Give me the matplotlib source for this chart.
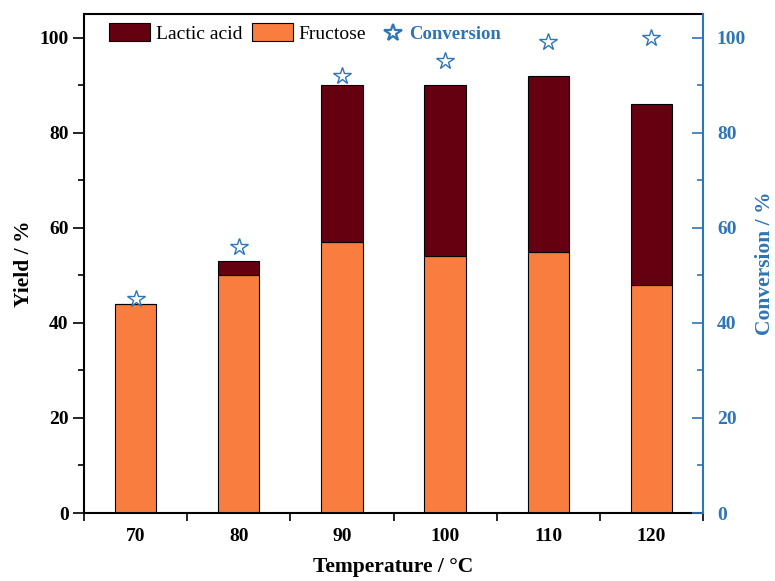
import matplotlib
matplotlib.use('Agg')
import matplotlib.pyplot as plt
from matplotlib.patches import Patch
from matplotlib.lines import Line2D
from matplotlib.ticker import MultipleLocator, FixedLocator

temperatures = [70, 80, 90, 100, 110, 120]
fructose = [44, 50, 57, 54, 55, 48]
lactic_acid = [0, 3, 33, 36, 37, 38]
conversion = [45, 56, 92, 95, 99, 100]
x_tick_labels = ['70', '80', '90', '100', '110', '120']

plt.rcParams['font.family'] = ['Liberation Serif', 'DejaVu Serif']
plt.rcParams['mathtext.fontset'] = 'stix'

RED = '#650010'
ORANGE = '#F97D3F'
BLUE = '#2E75B6'

fig = plt.figure(figsize=(7.75, 5.81), dpi=100)
ax = fig.add_axes([0.1084, 0.117, 0.7987, 0.859])
ax2 = ax.twinx()

ax.bar(temperatures, fructose, width=4, color=ORANGE, edgecolor='black', linewidth=0.8, zorder=2)
ax.bar(temperatures, lactic_acid, width=4, bottom=fructose, color=RED, edgecolor='black', linewidth=0.8, zorder=2)
ax2.plot(temperatures, conversion, linestyle='none', marker='*', markersize=13,
         markerfacecolor='none', markeredgecolor=BLUE, markeredgewidth=1.0)

ax.set_xlim(65, 125)
ax.set_ylim(0, 105)
ax2.set_ylim(0, 105)

# x ticks: labels at categories, ticks between
ax.set_xticks(temperatures)
ax.set_xticklabels(x_tick_labels)
ax.xaxis.set_minor_locator(FixedLocator([65, 75, 85, 95, 105, 115, 125]))
ax.tick_params(axis='x', which='major', length=0, pad=11, labelsize=14)
ax.tick_params(axis='x', which='minor', length=6, width=1.2, direction='out')

ax.yaxis.set_major_locator(MultipleLocator(20))
ax.yaxis.set_minor_locator(MultipleLocator(10))
ax.tick_params(axis='y', which='major', length=8, width=1.2, direction='out', pad=3, labelsize=14)
ax.tick_params(axis='y', which='minor', length=4, width=1.2, direction='out')

ax2.yaxis.set_major_locator(MultipleLocator(20))
ax2.yaxis.set_minor_locator(MultipleLocator(10))
ax2.tick_params(axis='y', which='major', length=8, width=1.2, direction='in', pad=10,
                labelsize=14, colors=BLUE)
ax2.tick_params(axis='y', which='minor', length=4, width=1.2, direction='in', colors=BLUE)

for lab in ax.get_xticklabels() + ax.get_yticklabels():
    lab.set_fontweight('bold')
for lab in ax2.get_yticklabels():
    lab.set_fontweight('bold')
    lab.set_color(BLUE)

for s in ['left', 'bottom', 'top']:
    ax.spines[s].set_linewidth(1.5)
ax.spines['right'].set_visible(False)
for s in ['left', 'bottom', 'top']:
    ax2.spines[s].set_visible(False)
ax2.spines['right'].set_color(BLUE)
ax2.spines['right'].set_linewidth(1.5)

ax.set_xlabel('Temperature / °C', fontsize=15.5, fontweight='bold')
ax.set_ylabel('Yield / %', fontsize=15.5, fontweight='bold')
ax2.set_ylabel('Conversion / %', fontsize=15.5, fontweight='bold', color=BLUE)
ax.xaxis.set_label_coords(0.5, -0.108)
ax.xaxis.label.set_va('center')
ax.yaxis.set_label_coords(-0.097, 0.5)
ax.yaxis.label.set_va('center')
ax2.yaxis.set_label_coords(1.100, 0.5)
ax2.yaxis.label.set_va('center')

bar_handles = [Patch(facecolor=RED, edgecolor='black', linewidth=0.8),
               Patch(facecolor=ORANGE, edgecolor='black', linewidth=0.8)]
leg = ax.legend(bar_handles, ['Lactic acid', 'Fructose'], ncol=2, frameon=False,
                loc='upper left', bbox_to_anchor=(0.012, 1.017), fontsize=14,
                handlelength=2.1, handleheight=1.05, handletextpad=0.3, columnspacing=0.5)
ax.add_artist(leg)

star_handle = [Line2D([], [], linestyle='none', marker='*', markersize=13,
                      markerfacecolor='none', markeredgecolor=BLUE, markeredgewidth=1.6)]
leg2 = ax.legend(star_handle, ['Conversion'], frameon=False,
                 loc='upper left', bbox_to_anchor=(0.457, 1.009), fontsize=13.5,
                 handlelength=1.0, handletextpad=0.35)
t = leg2.get_texts()[0]
t.set_color(BLUE)
t.set_fontweight('bold')

fig.savefig('out.png', dpi=100)
